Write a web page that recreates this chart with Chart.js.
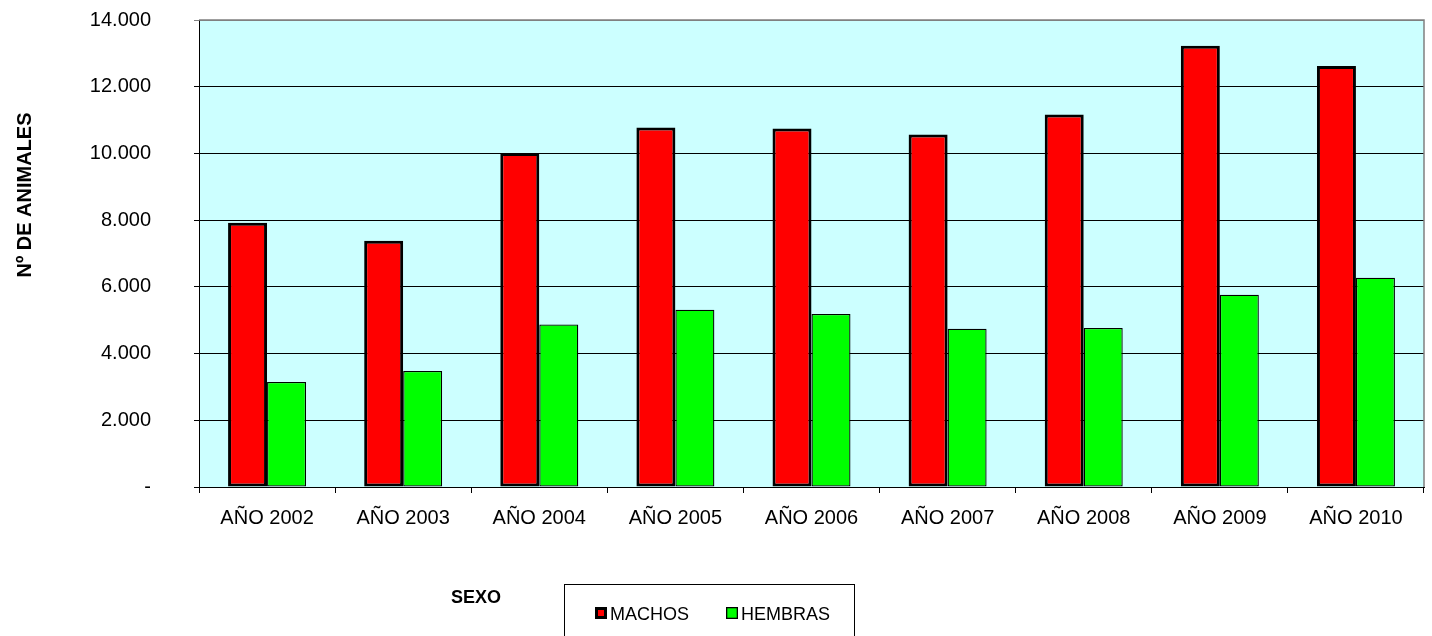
<!DOCTYPE html>
<html>
<head>
<meta charset="utf-8">
<script src="https://cdn.jsdelivr.net/npm/chart.js@4/dist/chart.umd.min.js"></script>
<style>
  html, body { margin: 0; padding: 0; background: #fff; }
  #wrap { width: 1432px; height: 636px; }
</style>
</head>
<body>
<div id="wrap"><canvas id="animalesChart" width="1432" height="636"></canvas></div>
<script>
const years = ['AÑO 2002', 'AÑO 2003', 'AÑO 2004', 'AÑO 2005', 'AÑO 2006', 'AÑO 2007', 'AÑO 2008', 'AÑO 2009', 'AÑO 2010']
const machos = [7925, 7385, 10010, 10780, 10750, 10570, 11165, 13230, 12620]
const hembras = [3150, 3480, 4875, 5315, 5185, 4745, 4765, 5765, 6275]
const yTicks = [0, 2000, 4000, 6000, 8000, 10000, 12000, 14000]

const FONT = 'Arial, "Liberation Sans", sans-serif'

// 14000 -> "14.000", 0 -> "-"
const fmt = (v) => v === 0 ? '-' : String(v).replace(/\B(?=(\d{3})+(?!\d))/g, '.')

// plot background plus grey frame on top and right
const plotFrame = {
  id: 'plotFrame',
  beforeDraw(chart) {
    const { ctx, chartArea: a } = chart
    ctx.save()
    ctx.fillStyle = '#CCFFFF'
    ctx.fillRect(a.left, a.top, a.right - a.left, a.bottom - a.top)
    ctx.restore()
  },
  afterDatasetsDraw(chart) {
    const { ctx, chartArea: a } = chart
    ctx.save()
    ctx.strokeStyle = '#808080'
    ctx.lineWidth = 1.5
    ctx.beginPath()
    ctx.moveTo(a.left, a.top)
    ctx.lineTo(a.right, a.top)
    ctx.lineTo(a.right, a.bottom)
    ctx.stroke()
    ctx.restore()
  }
}

// axis title, "SEXO" caption and the boxed legend below the plot
const extras = {
  id: 'extras',
  afterDraw(chart) {
    const ctx = chart.ctx
    ctx.save()

    ctx.fillStyle = '#000'
    ctx.font = 'bold 20px ' + FONT
    ctx.textAlign = 'center'
    ctx.textBaseline = 'middle'
    ctx.translate(25, 195)
    ctx.rotate(-Math.PI / 2)
    ctx.fillText('Nº DE ANIMALES', 0, 0)
    ctx.setTransform(1, 0, 0, 1, 0, 0)

    ctx.font = 'bold 18px ' + FONT
    ctx.textAlign = 'right'
    ctx.textBaseline = 'alphabetic'
    ctx.fillText('SEXO', 501, 603)

    ctx.strokeStyle = '#000'
    ctx.lineWidth = 1
    ctx.strokeRect(564.5, 584.5, 290, 70)

    ctx.font = '18px ' + FONT
    ctx.textAlign = 'left'
    let x = 595
    chart.data.datasets.forEach((ds) => {
      ctx.fillStyle = ds.backgroundColor
      ctx.fillRect(x, 607, 12, 12)
      ctx.strokeStyle = '#000'
      ctx.lineWidth = ds.borderWidth
      ctx.strokeRect(x + ds.borderWidth / 2, 607 + ds.borderWidth / 2, 12 - ds.borderWidth, 12 - ds.borderWidth)
      ctx.fillStyle = '#000'
      ctx.fillText(ds.label, x + 15, 620)
      x += 15 + ctx.measureText(ds.label).width + 37
    })
    ctx.restore()
  }
}

new Chart(document.getElementById('animalesChart'), {
  type: 'bar',
  data: {
    labels: years,
    datasets: [{
      label: 'MACHOS',
      data: machos,
      backgroundColor: '#FF0000',
      borderColor: '#000',
      borderWidth: 3,
      borderSkipped: false,
      categoryPercentage: 0.573,
      barPercentage: 1.0
    },
    {
      label: 'HEMBRAS',
      data: hembras,
      backgroundColor: '#00FF00',
      borderColor: '#000',
      borderWidth: 1.3,
      borderSkipped: false,
      categoryPercentage: 0.573,
      barPercentage: 1.0
    }]
  },
  options: {
    responsive: false,
    animation: false,
    layout: {
      autoPadding: false,
      padding: { top: 20, right: 8, left: 0, bottom: 0 }
    },
    plugins: {
      legend: { display: false },
      tooltip: { enabled: false }
    },
    scales: {
      x: {
        afterFit: (s) => { s.height = 149 },
        grid: {
          offset: true,
          drawOnChartArea: false,
          drawTicks: true,
          tickLength: 6,
          color: '#000'
        },
        border: { color: '#000', width: 1 },
        ticks: {
          color: '#000',
          padding: 13,
          maxRotation: 0,
          font: { family: FONT, size: 20 }
        }
      },
      y: {
        min: 0,
        max: 14000,
        afterFit: (s) => {
          s.width = 199
          s.paddingTop = 0
          s.paddingBottom = 0
        },
        afterBuildTicks: (s) => { s.ticks = yTicks.map((v) => ({ value: v })) },
        grid: {
          color: (c) => c.tick && c.tick.value === 14000 ? '#808080' : '#000',
          lineWidth: 1,
          tickLength: 5
        },
        border: { color: '#000', width: 1 },
        ticks: {
          color: '#000',
          padding: 43,
          font: { family: FONT, size: 20 },
          callback: (v) => fmt(v)
        }
      }
    }
  },
  plugins: [plotFrame, extras]
})
</script>
</body>
</html>
